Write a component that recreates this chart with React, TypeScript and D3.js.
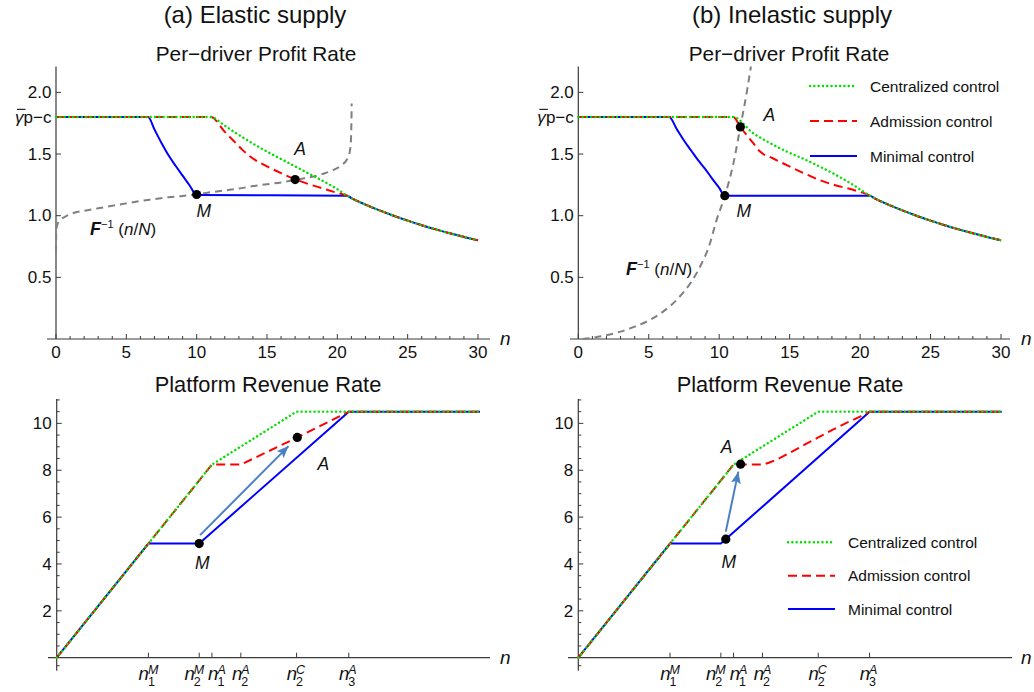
import React from "react";
import * as d3 from "d3";

type Pt = [number, number];

// ---------------- tick values / labels ----------------
const profitXTicks = [0, 5, 10, 15, 20, 25, 30];
const profitYTicks = [0.5, 1.0, 1.5, 2.0];
const profitYTickLabels = ["0.5", "1.0", "1.5", "2.0"];
const gammaPcLevel = 1.8;
const revenueYTicks = [2, 4, 6, 8, 10];
const revenueXTicksA = [6.5, 10.1, 11.0, 13.05, 17.0, 20.7];
const revenueXTicksB = [6.5, 10.1, 11.0, 13.05, 17.0, 20.64];
const revenueXTickSub = ["1", "2", "1", "2", "2", "3"];
const revenueXTickSup = ["M", "M", "A", "A", "C", "A"];
const legendLabels = ["Centralized control", "Admission control", "Minimal control"];

// ---------------- (a) elastic supply : profit ----------------
const profitTail: Pt[] = [
  [20.7, 1.162], [21, 1.143], [22, 1.09], [23, 1.043], [24, 1.0], [25, 0.96],
  [26, 0.923], [27, 0.889], [28, 0.857], [29, 0.828], [30, 0.8],
];
const profitMinimalA: Pt[] = [
  [0, 1.8], [6.55, 1.8], [7.0, 1.7], [7.5, 1.59], [8.0, 1.49], [8.5, 1.405],
  [9.0, 1.325], [9.5, 1.245], [10.0, 1.168], [20.7, 1.162],
];
const profitAdmissionA: Pt[] = [
  [0, 1.8], [11, 1.8], [12, 1.68], [12.6, 1.61], [13.2, 1.54], [13.8, 1.48],
  [15, 1.4], [16, 1.345], [17, 1.295], [18, 1.255], [19, 1.22], [20, 1.185], [20.7, 1.162],
];
const profitCentralA: Pt[] = [
  [0, 1.8], [11, 1.8], [12, 1.73], [13, 1.655], [14, 1.585], [15, 1.52], [16, 1.46],
  [17, 1.4], [18, 1.34], [19, 1.28], [20, 1.215], [20.7, 1.162],
];
const invCdfA: Pt[] = [
  [0, 0.7], [0.02, 0.88], [0.1, 0.93], [0.3, 0.965], [0.7, 0.995], [1.2, 1.02],
  [2, 1.04], [3, 1.06], [4, 1.08], [5, 1.1], [6, 1.12], [7, 1.135], [8, 1.15],
  [9, 1.16], [10, 1.174], [11, 1.19], [12, 1.205], [13, 1.22], [14, 1.24],
  [15, 1.255], [16, 1.27], [17, 1.29], [18, 1.31], [19, 1.34], [19.7, 1.37],
  [20.3, 1.41], [20.7, 1.46], [20.9, 1.53], [20.97, 1.62], [21.0, 1.75], [21.02, 1.91],
];
const profitDotsA: Pt[] = [[10.0, 1.172], [17.0, 1.293]];

// ---------------- (b) inelastic supply : profit ----------------
const profitMinimalB: Pt[] = [
  [0, 1.8], [6.45, 1.8], [7.0, 1.7], [7.5, 1.61], [8.0, 1.53], [8.5, 1.45],
  [9.0, 1.38], [9.5, 1.3], [10.0, 1.225], [10.4, 1.162], [20.7, 1.162],
];
const profitAdmissionB: Pt[] = [
  [0, 1.8], [11, 1.8], [11.5, 1.72], [12.4, 1.59], [12.9, 1.52], [13.8, 1.466],
  [14.8, 1.41], [16, 1.345], [17.1, 1.29], [18.3, 1.245], [19.5, 1.21], [20.7, 1.162],
];
const profitCentralB: Pt[] = [
  [0, 1.8], [11, 1.8], [12.4, 1.67], [13.6, 1.59], [14.8, 1.52], [16, 1.46],
  [17.1, 1.4], [18.3, 1.33], [19.5, 1.25], [20.7, 1.162],
];
const invCdfB: Pt[] = [
  [0.3, 0.0], [1, 0.01], [2, 0.03], [3, 0.06], [4, 0.1], [5, 0.15], [6, 0.22],
  [7, 0.32], [8, 0.46], [8.7, 0.6], [9.3, 0.76], [9.8, 0.96], [10.4, 1.16],
  [11, 1.42], [11.5, 1.72], [12, 2.03], [12.25, 2.21],
];
const profitDotsB: Pt[] = [[10.4, 1.162], [11.5, 1.72]];

// ---------------- revenue ----------------
const revMinimalA: Pt[] = [[0, 0], [6.5, 4.87], [10.1, 4.87], [20.7, 10.5], [30, 10.5]];
const revAdmissionA: Pt[] = [[0, 0], [11, 8.24], [13.05, 8.24], [17.05, 9.4], [20.7, 10.5], [30, 10.5]];
const revCentralA: Pt[] = [[0, 0], [11, 8.24], [17.0, 10.5], [30, 10.5]];
const revDotsA: Pt[] = [[10.1, 4.87], [17.05, 9.4]];
const revArrowA: Pt[] = [[10.16, 5.23], [16.43, 9.03]];

const revMinimalB: Pt[] = [[0, 0], [6.5, 4.87], [10.1, 4.87], [20.64, 10.5], [30, 10.5]];
const revAdmissionB: Pt[] = [
  [0, 0], [11, 8.24], [13.05, 8.24], [13.5, 8.32], [14, 8.44], [14.5, 8.59], [15, 8.75],
  [16, 9.08], [17, 9.4], [18, 9.72], [19, 10.02], [20, 10.3], [20.64, 10.5], [30, 10.5],
];
const revCentralB: Pt[] = [[0, 0], [11, 8.24], [17.0, 10.5], [30, 10.5]];
const revDotsB: Pt[] = [[10.45, 5.06], [11.5, 8.26]];
const revArrowB: Pt[] = [[10.45, 5.38], [11.34, 7.94]];

// ---------------- styles ----------------
const FONT = '"Liberation Sans", Arial, Helvetica, sans-serif';
const AX = "#3a3a3a";
const BLUE = { stroke: "#0000ff", strokeWidth: 2, fill: "none" };
const RED = { stroke: "#ff0000", strokeWidth: 2, fill: "none", strokeDasharray: "9,5" };
const GREEN = { stroke: "#00e000", strokeWidth: 2.4, fill: "none", strokeDasharray: "0.1,4.2", strokeLinecap: "round" as const };
const GRAY = { stroke: "#808080", strokeWidth: 2, fill: "none", strokeDasharray: "7,5" };
const ARROW = "#4a7fc6";

type Sc = { x: d3.ScaleLinear<number, number>; y: d3.ScaleLinear<number, number> };

function path(sc: Sc, pts: Pt[], smooth: boolean) {
  const l = d3.line<Pt>().x((d) => sc.x(d[0])).y((d) => sc.y(d[1]));
  l.curve(smooth ? d3.curveMonotoneX : d3.curveLinear);
  return l(pts) || "";
}

function Legend({ x, y, gap }: { x: number; y: number; gap: number }) {
  const styles = [GREEN, RED, BLUE];
  return (
    <g>
      {legendLabels.map((t, i) => (
        <g key={t}>
          <line x1={x} x2={x + 47} y1={y + i * gap} y2={y + i * gap} {...(styles[i] as any)} />
          <text x={x + 60} y={y + i * gap + 5.6} fontSize={15.5} fill="#111">{t}</text>
        </g>
      ))}
    </g>
  );
}

function ProfitPanel({ sc, axisL, axisR, minimal, admission, central, inv, dots, nX }: any) {
  const y0 = sc.y(0);
  const x0 = sc.x(0);
  const minor = d3.range(0, 31, 1);
  const gy = sc.y(gammaPcLevel) + 5.8;
  const gx = x0 - 4.5 - 28;
  return (
    <g>
      <line x1={axisL} x2={axisR} y1={y0} y2={y0} stroke={AX} strokeWidth={1.2} />
      <line x1={x0} x2={x0} y1={sc.y(2.21)} y2={y0} stroke={AX} strokeWidth={1.2} />
      {minor.map((v: number) => (
        <line key={"m" + v} x1={sc.x(v)} x2={sc.x(v)} y1={y0} y2={y0 - (v % 5 === 0 ? 5 : 3)} stroke={AX} strokeWidth={1} />
      ))}
      {profitXTicks.map((v) => (
        <text key={"xt" + v} x={sc.x(v)} y={358} textAnchor="middle" fontSize={17} fill="#111">{v}</text>
      ))}
      {profitYTicks.map((v, i) => (
        <g key={"yt" + v}>
          <line x1={x0} x2={x0 + 5} y1={sc.y(v)} y2={sc.y(v)} stroke={AX} strokeWidth={1} />
          <text x={x0 - 4.5} y={sc.y(v) + 5.8} textAnchor="end" fontSize={17} fill="#111">{profitYTickLabels[i]}</text>
        </g>
      ))}
      <text x={x0 - 4.5} y={gy} textAnchor="end" fontSize={17} fill="#111">p−c</text>
      <text x={gx} y={gy} textAnchor="end" fontSize={17} fontStyle="italic" fill="#111">γ</text>
      <line x1={gx - 6.5} x2={gx + 2} y1={gy - 13.5} y2={gy - 13.5} stroke="#111" strokeWidth={1.1} />
      <text x={nX} y={y0 + 6} fontSize={19} fontStyle="italic" fill="#111">n</text>
      <path d={path(sc, inv, true)} {...GRAY} />
      <path d={path(sc, minimal.concat(profitTail), true)} {...BLUE} />
      <path d={path(sc, admission.concat(profitTail), true)} {...RED} />
      <path d={path(sc, central.concat(profitTail), true)} {...(GREEN as any)} />
      {dots.map((d: Pt, i: number) => (
        <circle key={i} cx={sc.x(d[0])} cy={sc.y(d[1])} r={4.6} fill="#000" />
      ))}
    </g>
  );
}

function RevenuePanel({ sc, axisL, axisR, minimal, admission, central, dots, arrow, ticks, nX, shifts }: any) {
  const y0 = sc.y(0);
  const x0 = sc.x(0);
  const minor = d3.range(0.5, 11.01, 0.5);
  return (
    <g>
      <line x1={axisL} x2={axisR} y1={y0} y2={y0} stroke={AX} strokeWidth={1.2} />
      <line x1={x0} x2={x0} y1={sc.y(11.04)} y2={y0 + 13} stroke={AX} strokeWidth={1.2} />
      {minor.map((v: number) => (
        <line key={"m" + v} x1={x0} x2={x0 + (v % 2 === 0 ? 5 : 3)} y1={sc.y(v)} y2={sc.y(v)} stroke={AX} strokeWidth={1} />
      ))}
      <line x1={x0} x2={x0 + 3} y1={y0 + 8} y2={y0 + 8} stroke={AX} strokeWidth={1} />
      {revenueYTicks.map((v) => (
        <text key={"yt" + v} x={x0 - 5} y={sc.y(v) + 5.8} textAnchor="end" fontSize={17} fill="#111">{v}</text>
      ))}
      {ticks.map((v: number, i: number) => {
        const tx = sc.x(v);
        const c = tx + shifts[i];
        return (
          <g key={"xt" + i}>
            <line x1={tx} x2={tx} y1={y0} y2={y0 - 5} stroke={AX} strokeWidth={1} />
            <text x={c + 0.5} y={680} textAnchor="end" fontSize={18.5} fontStyle="italic" fill="#111">n</text>
            <text x={c - 0.5} y={674} fontSize={12.5} fontStyle="italic" fill="#111">{revenueXTickSup[i]}</text>
            <text x={c - 0.5} y={686} fontSize={12.5} fill="#111">{revenueXTickSub[i]}</text>
          </g>
        );
      })}
      <text x={nX} y={y0 + 6} fontSize={19} fontStyle="italic" fill="#111">n</text>
      <path d={path(sc, minimal, false)} {...BLUE} />
      <path d={path(sc, admission, false)} {...RED} />
      <path d={path(sc, central, false)} {...(GREEN as any)} />
      <line
        x1={sc.x(arrow[0][0])} y1={sc.y(arrow[0][1])}
        x2={sc.x(arrow[1][0])} y2={sc.y(arrow[1][1])}
        stroke={ARROW} strokeWidth={2} markerEnd="url(#arrowhead)"
      />
      {dots.map((d: Pt, i: number) => (
        <circle key={i} cx={sc.x(d[0])} cy={sc.y(d[1])} r={4.6} fill="#000" />
      ))}
    </g>
  );
}

function Lbl({ x, y, t }: { x: number; y: number; t: string }) {
  return <text x={x} y={y} textAnchor="middle" fontSize={17.5} fontStyle="italic" fill="#111">{t}</text>;
}

function FLabel({ x, y }: { x: number; y: number }) {
  return (
    <text x={x} y={y} fontSize={17} fill="#111">
      <tspan fontWeight="bold" fontStyle="italic" fontSize={18}>F</tspan>
      <tspan fontSize={11} dy={-7}>−1</tspan>
      <tspan dy={7}> (</tspan>
      <tspan fontStyle="italic">n</tspan>
      <tspan>/</tspan>
      <tspan fontStyle="italic">N</tspan>
      <tspan>)</tspan>
    </text>
  );
}

export default function App() {
  const pA: Sc = { x: d3.scaleLinear().domain([0, 30]).range([56, 478]), y: d3.scaleLinear().domain([0, 2.21]).range([339, 66.5]) };
  const pB: Sc = { x: d3.scaleLinear().domain([0, 30]).range([578.3, 1001]), y: d3.scaleLinear().domain([0, 2.21]).range([339, 66.5]) };
  const rA: Sc = { x: d3.scaleLinear().domain([0, 30]).range([56.7, 480]), y: d3.scaleLinear().domain([0, 11.04]).range([657.7, 399]) };
  const rB: Sc = { x: d3.scaleLinear().domain([0, 30]).range([578.3, 1001.7]), y: d3.scaleLinear().domain([0, 11.04]).range([657.7, 399]) };

  const dA = profitDotsA.map((d) => [pA.x(d[0]), pA.y(d[1])]);
  const dB = profitDotsB.map((d) => [pB.x(d[0]), pB.y(d[1])]);
  const eA = revDotsA.map((d) => [rA.x(d[0]), rA.y(d[1])]);
  const eB = revDotsB.map((d) => [rB.x(d[0]), rB.y(d[1])]);

  return (
    <div style={{ position: "absolute", left: 0, top: 0, width: 1034, height: 692, background: "#fff" }}>
      <svg width={1034} height={692} style={{ display: "block", fontFamily: FONT }}>
        <defs>
          <marker id="arrowhead" markerUnits="userSpaceOnUse" markerWidth={14} markerHeight={12} refX={12} refY={5} orient="auto">
            <path d="M0,0 L12,5 L0,10 L2.5,5 z" fill={ARROW} />
          </marker>
        </defs>
        <rect x={0} y={0} width={1034} height={692} fill="#fff" />
        <text x={255} y={23} textAnchor="middle" fontSize={24} fill="#111">(a) Elastic supply</text>
        <text x={792} y={23} textAnchor="middle" fontSize={24} fill="#111">(b) Inelastic supply</text>
        <text x={256} y={61} textAnchor="middle" fontSize={20.8} fill="#111">Per−driver Profit Rate</text>
        <text x={789} y={61} textAnchor="middle" fontSize={20.8} fill="#111">Per−driver Profit Rate</text>
        <text x={268} y={392} textAnchor="middle" fontSize={21.8} fill="#111">Platform Revenue Rate</text>
        <text x={790} y={392} textAnchor="middle" fontSize={21.8} fill="#111">Platform Revenue Rate</text>

        <ProfitPanel sc={pA} axisL={47} axisR={490} minimal={profitMinimalA} admission={profitAdmissionA}
          central={profitCentralA} inv={invCdfA} dots={profitDotsA} nX={500} />
        <ProfitPanel sc={pB} axisL={570} axisR={1010} minimal={profitMinimalB} admission={profitAdmissionB}
          central={profitCentralB} inv={invCdfB} dots={profitDotsB} nX={1021} />
        <RevenuePanel sc={rA} axisL={48} axisR={490} minimal={revMinimalA} admission={revAdmissionA}
          central={revCentralA} dots={revDotsA} arrow={revArrowA} ticks={revenueXTicksA} nX={500} shifts={[0, -5, 6, 1, 0, 0]} />
        <RevenuePanel sc={rB} axisL={568} axisR={1012} minimal={revMinimalB} admission={revAdmissionB}
          central={revCentralB} dots={revDotsB} arrow={revArrowB} ticks={revenueXTicksB} nX={1021} shifts={[0, -5, 6, 1, 0, 0]} />

        <Legend x={810} y={86} gap={35} />
        <Legend x={788} y={542.3} gap={33.4} />

        <Lbl x={dA[0][0] + 7} y={dA[0][1] + 23} t="M" />
        <Lbl x={dA[1][0] + 5} y={dA[1][1] - 25} t="A" />
        <Lbl x={dB[0][0] + 19} y={dB[0][1] + 21} t="M" />
        <Lbl x={dB[1][0] + 29} y={dB[1][1] - 6} t="A" />
        <Lbl x={eA[0][0] + 3} y={eA[0][1] + 25} t="M" />
        <Lbl x={eA[1][0] + 26} y={eA[1][1] + 33} t="A" />
        <Lbl x={eB[0][0] + 3} y={eB[0][1] + 29} t="M" />
        <Lbl x={eB[1][0] - 14} y={eB[1][1] - 11} t="A" />

        <FLabel x={90} y={235} />
        <FLabel x={626} y={275} />
      </svg>
    </div>
  );
}
